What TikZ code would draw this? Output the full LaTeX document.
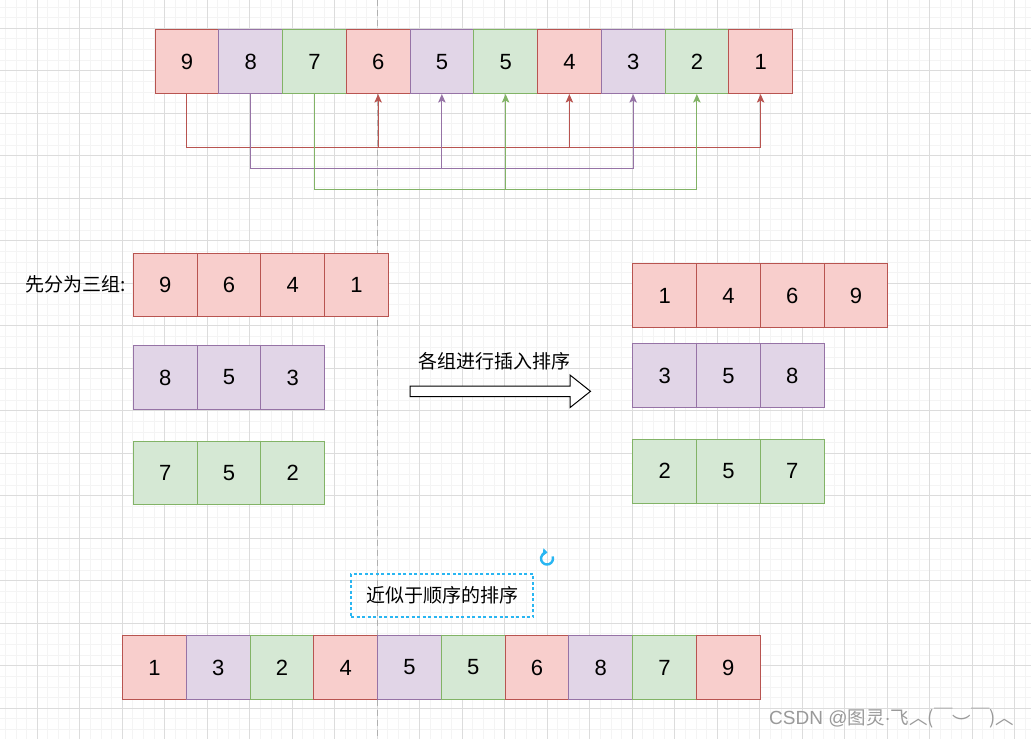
\documentclass[tikz,border=0pt]{standalone}
\usepackage{fontspec}
\setmainfont{Liberation Sans}
\newfontfamily\cjk{Noto Sans CJK SC}
\newfontfamily\lat{Liberation Sans}
\usetikzlibrary{arrows.meta}
\definecolor{fR}{HTML}{F8CECC}\definecolor{sR}{HTML}{B85450}
\definecolor{fP}{HTML}{E1D5E7}\definecolor{sP}{HTML}{9673A6}
\definecolor{fG}{HTML}{D5E8D4}\definecolor{sG}{HTML}{82B366}
\definecolor{gmin}{HTML}{F4F4F4}\definecolor{gmaj}{HTML}{DCDCDC}
\definecolor{selc}{HTML}{29B6F2}
\definecolor{pagec}{HTML}{B0B0B0}
\definecolor{wmc}{HTML}{9A9A9A}
\begin{document}
\begin{tikzpicture}[x=1pt,y=-1pt,
  cell/.style={draw, minimum size=63.75pt, inner sep=0pt, line width=1pt, font=\fontsize{22}{26}\selectfont},
  cellR/.style={cell, fill=fR, draw=sR},
  cellP/.style={cell, fill=fP, draw=sP},
  cellG/.style={cell, fill=fG, draw=sG},
  link/.style={line width=1pt, -{Stealth[length=8.5pt,width=7.5pt,inset=2pt]}},
  cjklabel/.style={inner sep=0pt, font=\cjk\fontsize{19}{22}\selectfont},
  minorline/.style={draw=gmin, line width=1pt},
  majorline/.style={draw=gmaj, line width=1pt},
]
\useasboundingbox (0,0) rectangle (1031,739);
\fill[white] (0,0) rectangle (1031,739);
% grid
\foreach \k in {0,...,98} \draw[minorline] ({-5.2+10.625*\k},0) -- ++(0,739);
\foreach \k in {0,...,71} \draw[minorline] (0,{-14.2+10.625*\k}) -- ++(1031,0);
\foreach \k in {0,...,25} \draw[majorline] ({-5.2+42.5*\k},0) -- ++(0,739);
\foreach \k in {0,...,18} \draw[majorline] (0,{-14.2+42.5*\k}) -- ++(1031,0);
% page break line
\draw[pagec, line width=1pt, dash pattern=on 6pt off 4pt] (377.5,0) -- (377.5,739);

% top row
\foreach \v/\c [count=\i] in {9/R,8/P,7/G,6/R,5/P,5/G,4/R,3/P,2/G,1/R}
  \node[cell\c] (t\i) at ({155+31.875+63.75*(\i-1)},61.75) {\v};

\draw[link, draw=sR] (t1.south) -- ++(0,53) -| (t4.south);
\draw[link, draw=sR] (t1.south) -- ++(0,53) -| (t7.south);
\draw[link, draw=sR] (t1.south) -- ++(0,53) -| (t10.south);
\draw[link, draw=sP] (t2.south) -- ++(0,74.5) -| (t5.south);
\draw[link, draw=sP] (t2.south) -- ++(0,74.5) -| (t8.south);
\draw[link, draw=sG] (t3.south) -- ++(0,95.5) -| (t6.south);
\draw[link, draw=sG] (t3.south) -- ++(0,95.5) -| (t9.south);

% left groups
\node[cjklabel, anchor=east] (lab1) at (126,284.5) {先分为三组:};
\foreach \v [count=\i] in {9,6,4,1}
  \node[cellR] (lr\i) at ({133.3+31.875+63.75*(\i-1)},285) {\v};
\foreach \v [count=\i] in {8,5,3}
  \node[cellP] (lp\i) at ({133.3+31.875+63.75*(\i-1)},377.5) {\v};
\foreach \v [count=\i] in {7,5,2}
  \node[cellG] (lg\i) at ({133.3+31.875+63.75*(\i-1)},472.9) {\v};

% block arrow
\node[cjklabel] (lab2) at (494,361.7) {各组进行插入排序};
\draw[line width=1pt, fill=white] (410,386) -- (570,386) -- (570,375) -- (590.5,391.3)
  -- (570,407.6) -- (570,396.7) -- (410,396.7) -- cycle;

% right groups
\foreach \v [count=\i] in {1,4,6,9}
  \node[cellR] (rr\i) at ({632.8+31.875+63.75*(\i-1)},295.5) {\v};
\foreach \v [count=\i] in {3,5,8}
  \node[cellP] (rp\i) at ({632.8+31.875+63.75*(\i-1)},375.8) {\v};
\foreach \v [count=\i] in {2,5,7}
  \node[cellG] (rg\i) at ({632.8+31.875+63.75*(\i-1)},471.2) {\v};

% selected label
\node[cjklabel, draw=selc, line width=1.4pt, dash pattern=on 3pt off 2.5pt,
  minimum width=182pt, minimum height=43pt] (lab3) at (442,595.5) {近似于顺序的排序};
\draw[selc, line width=2.4pt, -{Triangle[length=4.5pt,width=7.5pt]}] (547,558.5) ++(-20:6) arc[start angle=-20, end angle=275, radius=6];

% bottom row
\foreach \v/\c [count=\i] in {1/R,3/P,2/G,4/R,5/P,5/G,6/R,8/P,7/G,9/R}
  \node[cell\c] (b\i) at ({122.5+31.875+63.75*(\i-1)},667.5) {\v};

% watermark
\node[anchor=west, inner sep=0pt, text=wmc, font=\cjk\fontsize{18.5}{20}\selectfont] (wm) at (769,719.5) {{\lat\fontsize{19}{20}\selectfont CSDN @}图灵{\lat ·}飞︿(￣\raisebox{-0.35em}{︶}￣)︿};
\end{tikzpicture}
\end{document}
